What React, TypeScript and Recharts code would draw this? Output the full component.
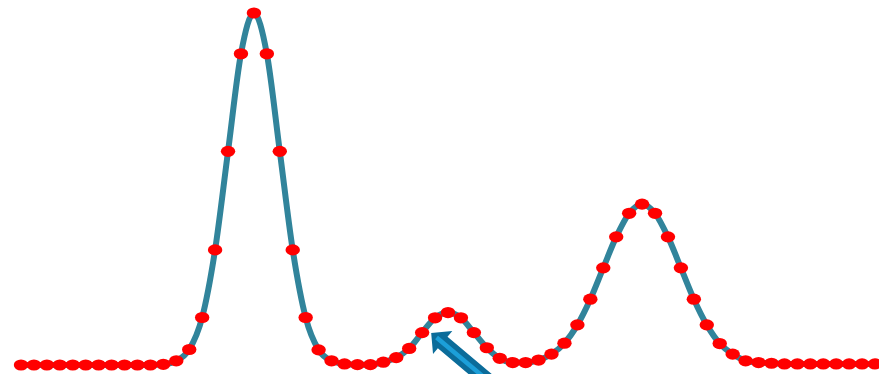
import React from "react";
import { LineChart, Line, XAxis, YAxis, ReferenceDot } from "recharts";

// Sample positions along the scan (evenly spaced readings)
const sampleIndex: number[] = Array.from({ length: 67 }, (_, i) => i);

// Signal intensity, as a percentage of the tallest peak
const intensity: number[] = [
  0, 0, 0, 0, 0, 0, 0, 0, 0, 0,
  0, 0.2, 1.2, 4.4, 13.5, 32.7, 60.7, 88.4, 100, 88.4,
  60.7, 32.7, 13.5, 4.3, 1.2, 0.3, 0.1, 0.1, 0.8, 2.1,
  4.7, 9.2, 13.4, 14.9, 13.4, 9.2, 4.9, 1.9, 0.7, 0.7,
  1.4, 3.1, 6.2, 11.4, 18.7, 27.6, 36.4, 43.1, 45.7, 43.1,
  36.4, 27.6, 18.7, 11.4, 6.1, 3.1, 1.2, 0.7, 0.5, 0.3,
  0.3, 0.3, 0.3, 0.3, 0.3, 0.3, 0.3,
];

// Where the callout arrow points (sample position, intensity)
const calloutIndex = 31.7;
const calloutValue = 9.1;

const data = sampleIndex.map((x, i) => ({ x, value: intensity[i] }));

const LINE_COLOR = "#31849B";
const DOT_COLOR = "#FF0000";

const EllipseDot = (props: any) => {
  const { cx, cy, index } = props;
  if (cx == null || cy == null) return null;
  return <ellipse key={`dot-${index}`} cx={cx} cy={cy} rx={7.2} ry={5.6} fill={DOT_COLOR} />;
};

// Block arrow whose tip sits at (cx, cy) and whose tail runs down to the right
const CalloutArrow = (props: any) => {
  const { cx, cy } = props;
  if (cx == null || cy == null) return null;
  const headLen = 15;
  const headHalf = 15;
  const shaftHalf = 7.5;
  const len = 110;
  const pts = [
    [0, 0],
    [headLen, -headHalf],
    [headLen, -shaftHalf],
    [len, -shaftHalf],
    [len, shaftHalf],
    [headLen, shaftHalf],
    [headLen, headHalf],
  ]
    .map((p) => p.join(","))
    .join(" ");
  return (
    <g transform={`translate(${cx},${cy}) rotate(40)`}>
      <polygon points={pts} fill="#0B6C9A" />
      <line x1={7} y1={0} x2={len} y2={0} stroke="#1C9FD9" strokeWidth={4.5} />
    </g>
  );
};

export default function App() {
  return (
    <div style={{ position: "absolute", left: 0, top: 0, width: 879, height: 374, background: "#fff" }}>
      <LineChart
        width={879}
        height={374}
        data={data}
        margin={{ top: 13, right: 4, bottom: 9, left: 21 }}
      >
        <XAxis dataKey="x" type="number" domain={[0, 66]} hide />
        <YAxis type="number" domain={[0, 100]} hide />
        <Line
          type="monotone"
          dataKey="value"
          stroke={LINE_COLOR}
          strokeWidth={6}
          dot={EllipseDot}
          activeDot={false}
          isAnimationActive={false}
        />
        <ReferenceDot
          x={calloutIndex}
          y={calloutValue}
          shape={CalloutArrow}
          ifOverflow="visible"
        />
      </LineChart>
    </div>
  );
}
